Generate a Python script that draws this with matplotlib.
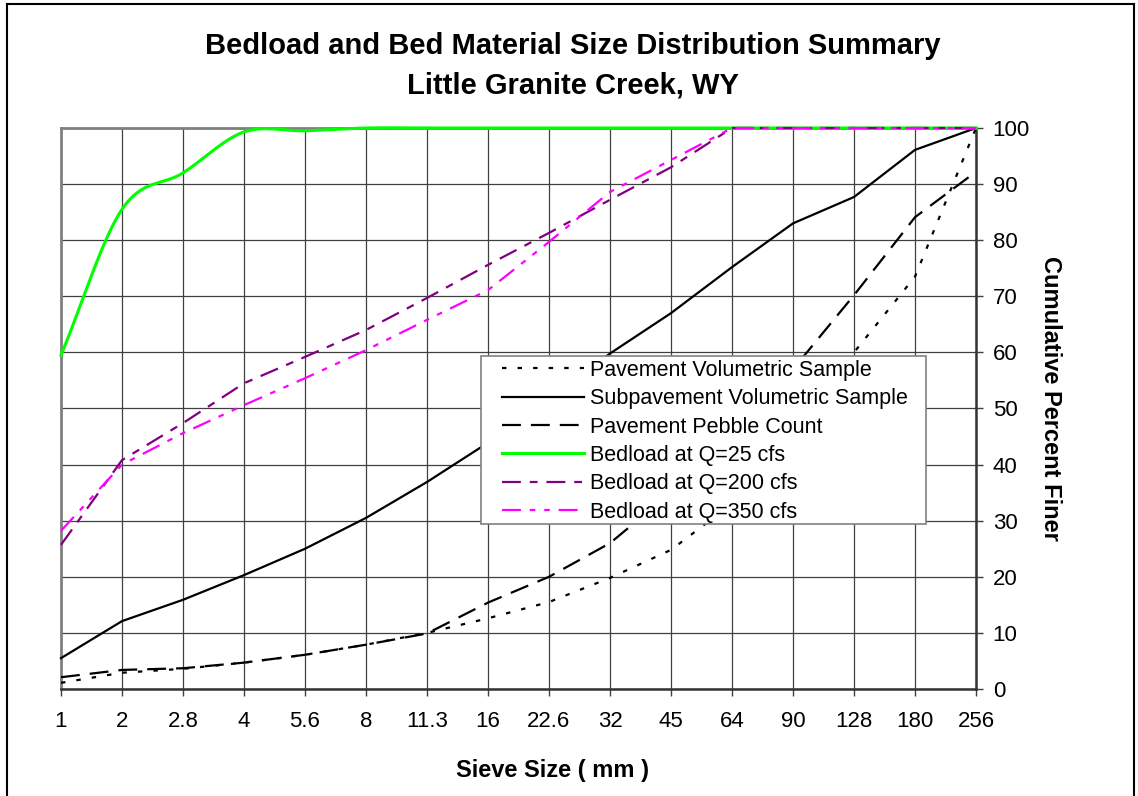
"""Bedload and bed material size distribution, Little Granite Creek."""

import matplotlib

matplotlib.use("Agg")
import matplotlib.pyplot as plt
import numpy as np
from matplotlib.lines import Line2D
from matplotlib.patches import Rectangle

sieve_sizes = ["1", "2", "2.8", "4", "5.6", "8", "11.3", "16", "22.6",
               "32", "45", "64", "90", "128", "180", "256"]

pavement_volumetric = [1.1, 2.9, 3.6, 4.7, 6.1, 7.9, 10.0, 12.6, 15.5,
                       19.8, 24.8, 33.0, 46.0, 60.0, 73.5, 100.0]
subpavement_volumetric = [5.5, 12.1, 15.9, 20.3, 25.0, 30.5, 36.9, 43.9, 51.5,
                          59.8, 67.0, 75.2, 83.0, 87.7, 96.1, 100.0]
pavement_pebble = [2.1, 3.4, 3.7, 4.7, 6.1, 7.9, 9.9, 15.4, 20.0,
                   26.0, 35.0, 46.0, 57.0, 70.2, 84.1, 92.2]
bedload_25 = [59.5, 85.5, 92.0, 99.3, 99.5, 100, 100, 100, 100,
              100, 100, 100, 100, 100, 100, 100]
bedload_200 = [25.7, 40.8, 47.4, 54.5, 59.2, 64.0, 69.7, 75.6, 81.3,
               87.2, 93.0, 100, 100, 100, 100, 100]
bedload_350 = [28.2, 40.0, 45.6, 50.6, 55.4, 60.4, 65.8, 71.1, 79.7,
               88.6, 94.3, 100, 100, 100, 100, 100]


def smooth_curve(y, steps=20):
    """Catmull-Rom curve through the points, like Excel's smoothed line."""
    y = np.asarray(y, dtype=float)
    x = np.arange(len(y), dtype=float)
    px = np.concatenate([[2 * x[0] - x[1]], x, [2 * x[-1] - x[-2]]])
    py = np.concatenate([[2 * y[0] - y[1]], y, [2 * y[-1] - y[-2]]])
    xs, ys = [], []
    t = np.linspace(0, 1, steps, endpoint=False)
    for i in range(1, len(px) - 2):
        for arr, out in ((px, xs), (py, ys)):
            p0, p1, p2, p3 = arr[i - 1:i + 3]
            out.extend(0.5 * (2 * p1 + (-p0 + p2) * t
                              + (2 * p0 - 5 * p1 + 4 * p2 - p3) * t ** 2
                              + (-p0 + 3 * p1 - 3 * p2 + p3) * t ** 3))
    xs.append(x[-1])
    ys.append(y[-1])
    return np.array(xs), np.array(ys)


plt.rcParams["font.family"] = ["Liberation Sans", "DejaVu Sans"]

W, H = 1138, 796
fig = plt.figure(figsize=(W / 100, H / 100), dpi=100)
ax = fig.add_axes([61 / W, 1 - 689 / H, 915 / W, 561 / H])

x = np.arange(len(sieve_sizes))
lw = 1.6
style = dict(clip_on=False, zorder=3)
ax.plot(x, pavement_volumetric, color="black", lw=lw, dashes=(2, 5),
        label="Pavement Volumetric Sample", **style)
ax.plot(x, subpavement_volumetric, color="black", lw=lw,
        label="Subpavement Volumetric Sample", **style)
ax.plot(x, pavement_pebble, color="black", lw=lw, dashes=(8.5, 4.5),
        label="Pavement Pebble Count", **style)
sx, sy = smooth_curve(bedload_25)
ax.plot(sx, sy, color="#00FF00", lw=2.2, label="Bedload at Q=25 cfs", **style)
ax.plot(x, bedload_200, color="#800080", lw=lw, dashes=(8.5, 4, 3.5, 4),
        label="Bedload at Q=200 cfs", **style)
ax.plot(x, bedload_350, color="#FF00FF", lw=lw,
        dashes=(8.5, 4, 2.5, 4, 2.5, 4), label="Bedload at Q=350 cfs", **style)

ax.set_xlim(0, len(sieve_sizes) - 1)
ax.set_ylim(0, 100)
ax.set_xticks(x)
ax.set_xticklabels(sieve_sizes)
ax.set_yticks(np.arange(0, 101, 10))
ax.yaxis.tick_right()
ax.tick_params(axis="x", direction="out", length=5, width=1, pad=11,
               labelsize=16, color="#404040")
ax.tick_params(axis="y", direction="out", length=5, width=1, pad=7,
               labelsize=16, color="#404040", left=False, right=True)
ax.grid(True, color="#404040", lw=0.9)
ax.set_axisbelow(True)
for side in ("left", "top"):
    ax.spines[side].set_color("#808080")
    ax.spines[side].set_linewidth(2)
for side in ("right", "bottom"):
    ax.spines[side].set_color("#333333")
    ax.spines[side].set_linewidth(1.8)

# legend box drawn by hand so its padding matches the original
box_l, box_r, box_t, box_b = 481, 926, 356, 524
ax.add_patch(Rectangle(((box_l - 61) / 915, (689 - box_b) / 561),
                       (box_r - box_l) / 915, (box_b - box_t) / 561,
                       transform=ax.transAxes, facecolor="white",
                       edgecolor="#808080", lw=1.2, zorder=4))
leg = ax.legend(loc="upper left", bbox_to_anchor=((502 - 61) / 915, (689 - 360) / 561),
                fontsize=15.5, frameon=False, handlelength=3.8, handletextpad=0.3,
                labelspacing=0.34, borderpad=0, borderaxespad=0)
leg.set_zorder(5)

fig.text(573 / W, 1 - 46 / H, "Bedload and Bed Material Size Distribution Summary",
         ha="center", va="center", fontsize=21, fontweight="bold")
fig.text(573 / W, 1 - 86 / H, "Little Granite Creek, WY",
         ha="center", va="center", fontsize=21, fontweight="bold")
fig.text(553 / W, 1 - 771 / H, "Sieve Size ( mm )",
         ha="center", va="center", fontsize=17, fontweight="bold")
fig.text(1050 / W, 1 - 398 / H, "Cumulative Percent Finer",
         ha="center", va="center", rotation=270, fontsize=17, fontweight="bold")

# outer chart border (bottom edge is off the picture)
for xs_, ys_ in (([7, 7], [H, 4]), ([7, 1134], [4, 4]), ([1134, 1134], [4, H])):
    fig.add_artist(Line2D(np.array(xs_) / W, 1 - np.array(ys_) / H,
                          color="black", lw=1.5))

fig.savefig("out.png", dpi=100)
